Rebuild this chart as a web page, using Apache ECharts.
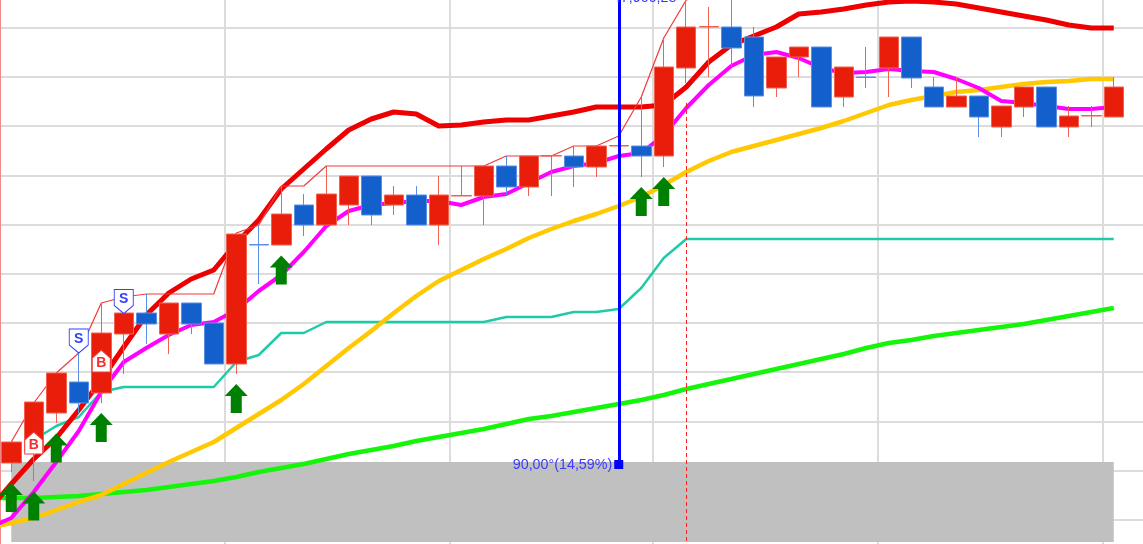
<!DOCTYPE html>
<html><head><meta charset="utf-8">
<style>html,body{margin:0;padding:0;background:#fff;overflow:hidden}#c{width:1143px;height:544px}</style>
<script src="https://cdn.jsdelivr.net/npm/echarts@6/dist/echarts.min.js"></script>
</head><body><div id="c"></div>
<script>
// candle values for sessions 0..49
const opens=[106,117,156,187,176,235,256,235,266,246,205,324.5,324,364,344,364,393,364,374,344,373,373,403,382,413,413,402,423,423,413,501,542,542,532,481,512,522,472,492,501,532,482,462,473,442,462,482,442,453,452];
const closes=[127,167,196,166,236,256,245,266,245,205,335,324,355,344,375,393,354,374,344,374,373.5,403,382,413,413.5,402,423,423.5,413,502,542,542.5,521,473,512,522,462,502,491.5,532,491,462,473,452,463,482,442,453,453.5,482];
const lows=[97,88,146,156,166,195,225,215,235,205,195,285,324,333,344,344,344,354,344,324,373,344,374,373,373,382,392,423,392,402,486,492,502,462,472,492,462,462,481,472,481,462,462,432,432,452,442,432,442,452];
const highs=[127,167,196,216,266,275,275,266,266,246,335,344,383,375,403,393,393,383,383,393,403,403,413,413,413.5,423,423,433,472,532,579,562,579,542,512,522,522,502,522,532,532,492,492,473,463,482,482,463,463,492];
// indicator lines: first value lies just left of the visible area
const upperBand=[59,85,110,131,159,189,222,254,276,290,299,326,349,380,400,420,439,450,457,455,443,444,447,449,449,453,457,462,462,462,464,482,507,524,533,542,555,557,560,564,567,568,567,565,561,557,553,549,544,541,541];
const magentaLine=[41,51,77,107,138,177,207,221,234,244,247,259,278,294,317,343,358,364,366,368,368,364,372,375,386,397,403,406,413,416,434,461,484,503,514,517,511,501,496,497,500,498,497,490,481,468,466,463,460,460,462];
const yellowLine=[41,46,51,59,67,74,85,96,107,117,127,141,155,169,185,203,221,238,256,273,288,299,310,320,331,340,348,355,363,372,384,397,408,417,423,429,435,441,448,456,464,469,473,477,479,482,485,487,488,490,490];
const greenLine=[71,71,71,72,73,75,77,79,82,85,88,92,97,101,105,110,115,119,123,128,132,136,140,145,150,153,157,161,165,169,174,180,185,190,195,200,205,210,215,221,226,229,233,236,239,242,245,249,253,257,261];
const tealLine=[null,null,129,143,152,177,182,182,182,182,182,207,214,236,236,247,247,247,247,247,247,247,247,252,252,252,257,257,260,281,311,330,330,330,330,330,330,330,330,330,330,330,330,330,330,330,330,330,330,330,330];
const thinHigh=[null,127,166,196,216,266,272,275,275,275,275,336,344,383,383,403,403,403,403,403,403,403,403,413,413,413,423,423,433,472,531,569,579];
// signal markers [session, value]
const buyArrows=[[0,71.5],[1,63],[2,121],[4,141.5],[10,170.5],[12,299],[28,367.5],[29,377.5]];
const bSignals=[[1,126],[4,208]];
const sSignals=[[3,228],[5,267.5]];
const gridColumns=[10,20,29,39,49];
const cursorSession=27, cursorValue=104.5, topLabel='47,906,28', angleLabel='90,00°(14,59%)';
const dashSession=30, dashTop=466;
const bandTop=107, bandBottom=27;

const categories=['']; for(let i=0;i<50;i++)categories.push(String(i)); categories.push('');
const candle=[['-','-','-','-']];
opens.forEach((o,i)=>candle.push([o,closes[i],lows[i],highs[i]]));
candle.push(['-','-','-','-']);
const shift=a=>a.map(p=>[p[0]+1,p[1]]);
const line=(name,data,color,width,z)=>({name,type:'line',data,symbol:'none',z:z||2,silent:true,
  lineStyle:{color,width,cap:'butt',join:'round'}});

const ch=echarts.init(document.getElementById('c'),null,{renderer:'canvas'});
ch.setOption({
 animation:false,
 grid:{left:-22.5,width:1170,top:-21.4,height:590.4,containLabel:false,outerBoundsMode:'none'},
 xAxis:{type:'category',data:categories,boundaryGap:true,
   axisLine:{show:false},axisTick:{show:false},axisLabel:{show:false},
   splitLine:{show:true,interval:(i)=>gridColumns.includes(i-1),lineStyle:{color:'#dcdcdc',width:2}}},
 yAxis:{type:'value',min:0,max:590.4,interval:49.2,
   axisLine:{show:false},axisTick:{show:false},axisLabel:{show:false},
   splitLine:{show:true,lineStyle:{color:'#dcdcdc',width:2}}},
 graphic:[{type:'rect',shape:{x:0,y:0,width:1,height:544},style:{fill:'#f08a8a'},z:1}],
 series:[
  Object.assign(line('Green',greenLine,'#14f50a',4.5,2),{markArea:{silent:true,z:1,itemStyle:{color:'#c0c0c0'},
     data:[[{coord:[1,bandTop]},{coord:[50,bandBottom]}]]}}),
  line('Teal',tealLine,'#1fcba6',2.5,2),
  line('Yellow',yellowLine,'#ffc800',4.5,2),
  line('Magenta',magentaLine,'#ff00ff',4,2),
  line('Upper',upperBand,'#ee0000',5,2),
  line('Thin',thinHigh,'#f03a3a',1.2,2),
  {name:'Price',type:'candlestick',data:candle,barWidth:20,z:3,silent:true,
   itemStyle:{color:'#e81e0a',color0:'#135fcc',borderColor:'#f2604f',borderColor0:'#5b8fe4',borderWidth:1}},
  {name:'Buy',type:'scatter',data:shift(buyArrows),z:4,silent:true,symbolSize:[23,29],
   symbol:'path://M11.5 0 L23 12 L17 12 L17 29 L6 29 L6 12 L0 12 Z',itemStyle:{color:'#008000',opacity:1}},
  {name:'B',type:'scatter',data:shift(bSignals),z:4,silent:true,symbolSize:[18,22],
   symbol:'path://M9 0 L18 8 L18 22 L0 22 L0 8 Z',itemStyle:{color:'#fff',borderColor:'#f03a3a',borderWidth:1,opacity:1},
   label:{show:true,position:'inside',formatter:'B',color:'#f0302a',fontFamily:'Liberation Sans',fontWeight:'bold',fontSize:14,offset:[0,2]}},
  {name:'S',type:'scatter',data:shift(sSignals),z:4,silent:true,symbolSize:[19,24],
   symbol:'path://M0 0 L19 0 L19 16 L9.5 24 L0 16 Z',itemStyle:{color:'#fff',borderColor:'#3040ff',borderWidth:1,opacity:1},
   label:{show:true,position:'inside',formatter:'S',color:'#3040ff',fontFamily:'Liberation Sans',fontWeight:'bold',fontSize:14,offset:[0,-2]}},
  {name:'Tools',type:'scatter',data:[],z:5,silent:true,
   markLine:{silent:true,z:5,symbol:'none',label:{show:false},animation:false,data:[
     [{coord:[cursorSession+1,590],lineStyle:{color:'#0000ff',width:3,type:'solid'}},{coord:[cursorSession+1,cursorValue]}],
     [{coord:[dashSession+1,dashTop],lineStyle:{color:'#ff2020',width:1,type:[4,3]}},{coord:[dashSession+1,0]}]
   ]},
   markPoint:{silent:true,z:6,animation:false,data:[
     {coord:[cursorSession+1,cursorValue],symbol:'rect',symbolSize:9,itemStyle:{color:'#0000ff'},
      label:{show:true,position:'left',distance:1,offset:[-1,1],formatter:angleLabel,color:'#3a3aff',fontFamily:'Liberation Sans',fontSize:14.3}},
     {coord:[cursorSession+1,570.5],symbol:'rect',symbolSize:0.1,itemStyle:{color:'transparent'},
      label:{show:true,position:'right',distance:0,offset:[-6,0],formatter:topLabel,color:'#3a3aff',fontFamily:'Liberation Sans',fontSize:14.3}}
   ]}}
 ]
});
</script></body></html>
